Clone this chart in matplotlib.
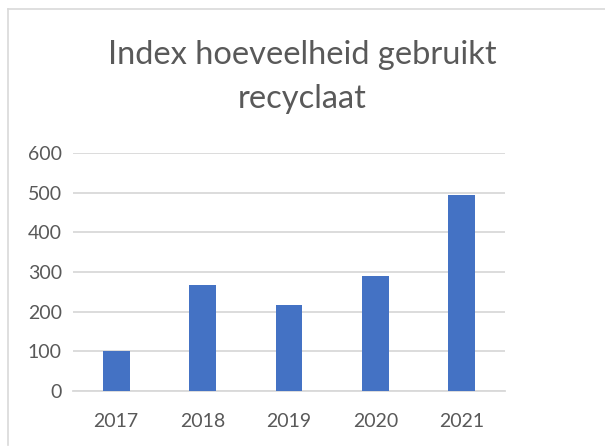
import matplotlib.pyplot as plt
from matplotlib.lines import Line2D

# --- DATA ---
years = ["2017", "2018", "2019", "2020", "2021"]
index_values = [100, 267, 217, 291, 495]
y_ticks = [0, 100, 200, 300, 400, 500, 600]

# --- STYLE ---
plt.rcParams["font.family"] = ["Lato", "DejaVu Sans"]
text_color = "#595959"
grid_color = "#D9D9D9"
bar_color = "#4472C4"

fig = plt.figure(figsize=(6.05, 4.47), dpi=100)
ax = fig.add_axes([73 / 605, 1 - 391 / 447, 432 / 605, 238 / 447])

x = range(len(years))
ax.bar(x, index_values, width=0.31, color=bar_color, zorder=3)

ax.set_xlim(-0.5, len(years) - 0.5)
ax.set_ylim(0, 600)
ax.set_yticks(y_ticks)
ax.set_xticks(list(x))
ax.set_xticklabels(years)

ax.grid(axis="y", color=grid_color, linewidth=1.3, zorder=0)
for side in ["top", "right", "left"]:
    ax.spines[side].set_visible(False)
ax.spines["bottom"].set_color(grid_color)
ax.spines["bottom"].set_linewidth(1.3)

ax.tick_params(axis="both", length=0, labelsize=14, colors=text_color)
ax.tick_params(axis="y", pad=8)
ax.tick_params(axis="x", pad=16)

# --- TITLE ---
fig.text(0.5, 1 - 64.5 / 447, "Index hoeveelheid gebruikt", ha="center", va="baseline",
         fontsize=23.5, color=text_color)
fig.text(0.5, 1 - 108 / 447, "recyclaat", ha="center", va="baseline",
         fontsize=23.5, color=text_color)

# --- CHART BORDER (top + left visible) ---
fig.add_artist(Line2D([8 / 605, 1.0], [1 - 9 / 447, 1 - 9 / 447], color=grid_color,
                      linewidth=1.2, transform=fig.transFigure))
fig.add_artist(Line2D([8 / 605, 8 / 605], [1 - 9 / 447, 1 - 445 / 447], color=grid_color,
                      linewidth=1.2, transform=fig.transFigure))

fig.savefig("out.png", dpi=100)
